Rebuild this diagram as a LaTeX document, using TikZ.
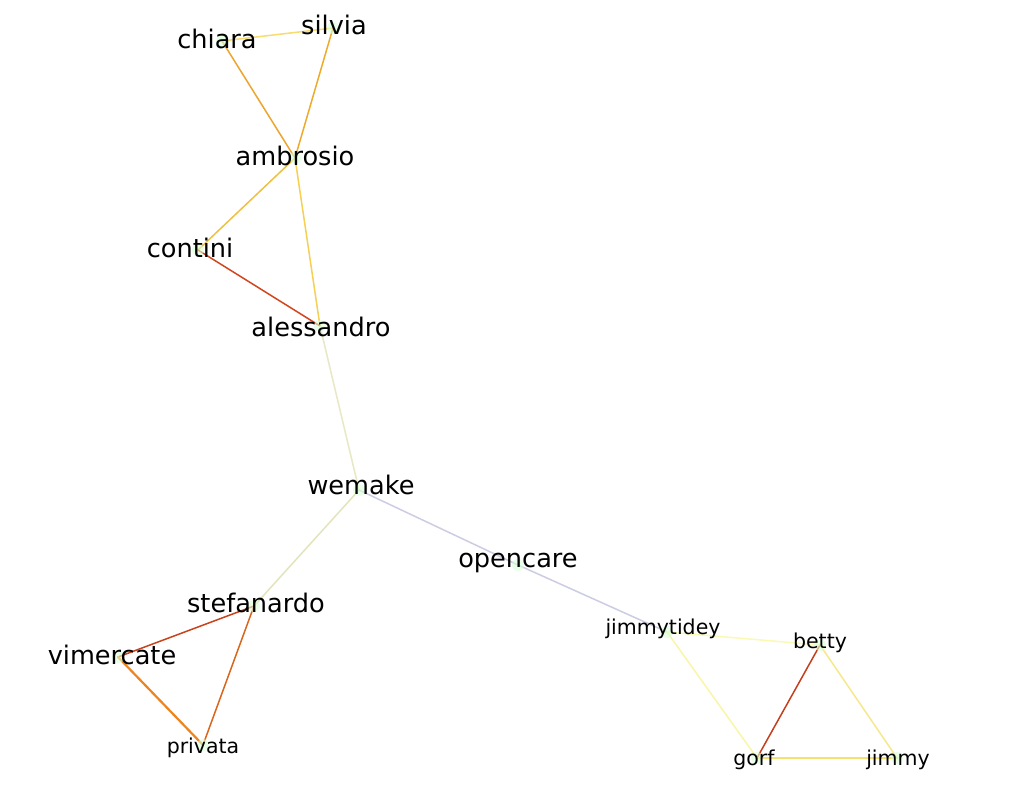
\documentclass[tikz,border=0pt]{standalone}
\usepackage{fontspec}
\setmainfont{DejaVu Sans}
\begin{document}
\begin{tikzpicture}[x=1pt,y=-1pt,
  big/.style={anchor=base,inner sep=0pt,font=\fontsize{25.6}{30}\selectfont},
  small/.style={anchor=base,inner sep=0pt,font=\fontsize{20.5}{24}\selectfont},
  dot/.style={fill=green!15!white,fill opacity=0.6,draw=none},
  edge/.style={line width=1.5pt,line cap=round}]
\useasboundingbox (0,0) rectangle (1012,786);
\fill[white] (0,0) rectangle (1012,786);
% point coordinates
\coordinate (pchiara) at (222,41);
\coordinate (psilvia) at (333,28);
\coordinate (pambrosio) at (295,158);
\coordinate (pcontini) at (198,250);
\coordinate (palessandro) at (320,326);
\coordinate (pwemake) at (359,490);
\coordinate (popencare) at (518,565);
\coordinate (pstefanardo) at (254,606);
\coordinate (pvimercate) at (118,657);
\coordinate (pprivata) at (203,745);
\coordinate (pjimmytidey) at (667,632);
\coordinate (pbetty) at (820,645);
\coordinate (pgorf) at (757,758);
\coordinate (pjimmy) at (897,758);
% edges
\definecolor{cA}{HTML}{F8DC70}
\definecolor{cB}{HTML}{EDA530}
\definecolor{cC}{HTML}{EEAA2C}
\definecolor{cD}{HTML}{F0C040}
\definecolor{cE}{HTML}{F6D055}
\definecolor{cF}{HTML}{D2461E}
\definecolor{cG}{HTML}{E8E8C4}
\definecolor{cH}{HTML}{E4E4BC}
\definecolor{cI}{HTML}{CCCCE4}
\definecolor{cJ}{HTML}{C8421C}
\definecolor{cK}{HTML}{D8661C}
\definecolor{cL}{HTML}{EC8420}
\definecolor{cM}{HTML}{FAFAB4}
\definecolor{cN}{HTML}{F9F6A8}
\definecolor{cO}{HTML}{C4401C}
\definecolor{cP}{HTML}{F6E88C}
\definecolor{cQ}{HTML}{F5E070}
\draw[edge,cA] (pchiara) -- (psilvia);
\draw[edge,cB] (pchiara) -- (pambrosio);
\draw[edge,cC] (psilvia) -- (pambrosio);
\draw[edge,cD] (pambrosio) -- (pcontini);
\draw[edge,cE] (pambrosio) -- (palessandro);
\draw[edge,cF] (pcontini) -- (palessandro);
\draw[edge,cG] (palessandro) -- (pwemake);
\draw[edge,cH] (pwemake) -- (pstefanardo);
\draw[edge,cI] (pwemake) -- (popencare);
\draw[edge,cI] (popencare) -- (pjimmytidey);
\draw[edge,cJ] (pstefanardo) -- (pvimercate);
\draw[edge,cK] (pstefanardo) -- (pprivata);
\draw[edge,cL,line width=2.2pt] (pvimercate) -- (pprivata);
\draw[edge,cM] (pjimmytidey) -- (pbetty);
\draw[edge,cN] (pjimmytidey) -- (pgorf);
\draw[edge,cO] (pbetty) -- (pgorf);
\draw[edge,cP] (pbetty) -- (pjimmy);
\draw[edge,cQ,line width=2.4pt] (pgorf) -- (pjimmy);
% points
\foreach \p in {pchiara,psilvia,pambrosio,pcontini,palessandro,pwemake,popencare,pstefanardo,pvimercate,pprivata,pjimmytidey,pbetty,pgorf,pjimmy}
  \fill[dot] (\p) circle (6);
% labels
\node[big] (chiara) at (217,49) {chiara};
\node[big] (silvia) at (334,35) {silvia};
\node[big] (ambrosio) at (295,166) {ambrosio};
\node[big] (contini) at (190,258) {contini};
\node[big] (alessandro) at (321,337) {alessandro};
\node[big] (wemake) at (361,494) {wemake};
\node[big] (opencare) at (518,567) {opencare};
\node[big] (stefanardo) at (256,612) {stefanardo};
\node[big] (vimercate) at (112,664) {vimercate};
\node[small] (privata) at (203,753) {privata};
\node[small] (jimmytidey) at (663,634) {jimmytidey};
\node[small] (betty) at (820,648) {betty};
\node[small] (gorf) at (754,765) {gorf};
\node[small] (jimmy) at (898,765) {jimmy};
\end{tikzpicture}
\end{document}
